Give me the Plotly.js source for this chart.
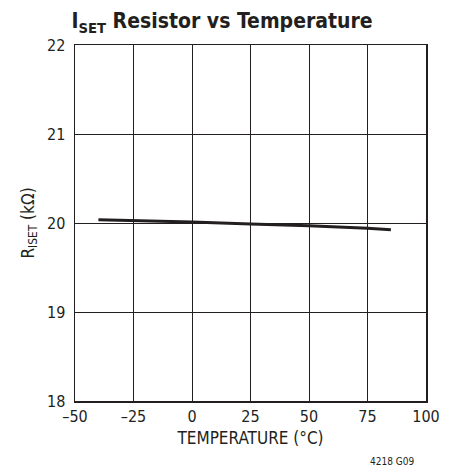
<!DOCTYPE html>
<html><head><meta charset="utf-8">
<script src="https://cdn.plot.ly/plotly-3.0.1.min.js"></script>
<style>html,body{margin:0;padding:0;background:#fff}</style>
</head><body>
<div id="chart" style="width:461px;height:469px"></div>
<script>
const temperature = [-40, -25, 0, 25, 50, 75, 85];
const rIset = [20.037, 20.03, 20.01, 19.99, 19.97, 19.94, 19.925];
const xTicks = [-50, -25, 0, 25, 50, 75, 100];
const xTickText = ['\u201350', '\u201325', '0', '25', '50', '75', '100'];
const yTicks = [18, 19, 20, 21, 22];

const FONT = '"DejaVu Sans Condensed", "Liberation Sans Narrow", sans-serif';
const INK = '#231f20';

Plotly.newPlot('chart', [{
  x: temperature, y: rIset, mode: 'lines', type: 'scatter',
  line: {color: INK, width: 3}, hoverinfo: 'skip'
}], {
  width: 461, height: 469,
  margin: {l: 75, r: 35, t: 45, b: 68},
  paper_bgcolor: '#fff', plot_bgcolor: '#fff',
  showlegend: false,
  font: {family: FONT, color: INK},
  title: {text: '<b>I<sub>SET</sub> Resistor vs Temperature</b>', font: {family: FONT, size: 21, color: INK},
          x: 0.155, xanchor: 'left', y: 0.955, yanchor: 'middle'},
  xaxis: {range: [-50, 100], tickvals: xTicks, ticktext: xTickText, ticks: '',
          showgrid: true, gridcolor: INK, gridwidth: 1, zeroline: false,
          showline: true, linecolor: INK, linewidth: 1.5, mirror: true,
          tickfont: {size: 16, family: FONT, color: INK},
          title: {text: 'TEMPERATURE (\u00B0C)', font: {size: 17, family: FONT, color: INK}, standoff: 7}},
  yaxis: {range: [18, 22], tickvals: yTicks, ticks: '', ticklabelstandoff: 5,
          showgrid: true, gridcolor: INK, gridwidth: 1, zeroline: false,
          showline: true, linecolor: INK, linewidth: 1.5, mirror: true,
          tickfont: {size: 16, family: FONT, color: INK},
          title: {text: 'R<sub>ISET</sub> (k\u03A9)', font: {size: 17, family: FONT, color: INK}, standoff: 8}},
  annotations: [{text: '4218 G09', xref: 'paper', yref: 'paper', x: 0.972, y: -0.17,
                 xanchor: 'right', yanchor: 'middle', showarrow: false,
                 font: {size: 10, family: FONT, color: INK}}]
}, {staticPlot: true, displayModeBar: false});
</script>
</body></html>
